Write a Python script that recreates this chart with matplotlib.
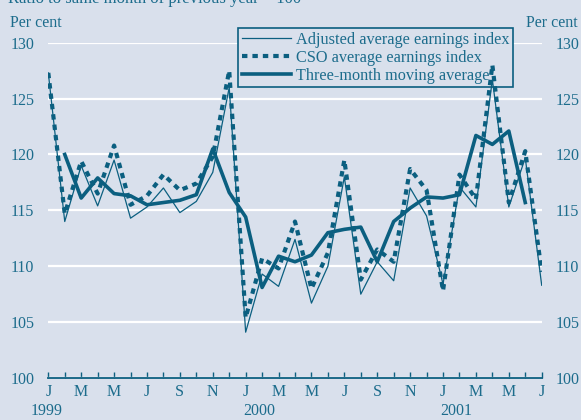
import numpy as np
import matplotlib
matplotlib.use("Agg")
import matplotlib.pyplot as plt
import matplotlib.transforms as mtransforms

# monthly values, Jan 1999 .. Jul 2001 (31 months)
adjusted = [127.3, 114.0, 119.0, 115.4, 119.5, 114.3, 115.3, 117.0, 114.8, 115.8,
            118.4, 126.0, 104.1, 109.3, 108.2, 112.4, 106.7, 110.0, 118.0, 107.5,
            110.4, 108.7, 117.0, 114.5, 108.4, 117.1, 115.3, 126.7, 115.3, 119.7,
            108.3]
cso = [127.3, 114.7, 119.4, 116.5, 120.8, 115.5, 116.3, 118.2, 116.8, 117.4,
       119.8, 127.5, 105.4, 110.7, 109.8, 114.0, 108.0, 111.2, 119.5, 108.8,
       111.5, 110.4, 118.7, 116.8, 107.8, 118.2, 116.0, 128.0, 115.7, 120.3,
       109.5]
# centred three-month average, Feb 1999 .. Jun 2001
moving_avg = [120.0, 116.1, 117.9, 116.5, 116.3, 115.5, 115.7, 115.9, 116.4,
              120.5, 116.6, 114.4, 108.1, 110.9, 110.4, 111.0, 113.0, 113.3,
              113.5, 110.4, 114.0, 115.2, 116.2, 116.1, 116.4, 121.7, 120.9,
              122.1, 115.7]
month_labels = ['J', 'M', 'M', 'J', 'S', 'N', 'J', 'M', 'M', 'J', 'S', 'N',
                'J', 'M', 'M', 'J']
years = ['1999', '2000', '2001']

bg = '#d9e0ec'
line_col = '#0b5f80'
text_col = '#1c6c8c'

plt.rcParams['font.family'] = ['Liberation Serif', 'DejaVu Serif']

fig = plt.figure(figsize=(5.81, 4.20), dpi=100, facecolor=bg)
ax = fig.add_axes([48.3 / 581, 1 - 378 / 420, 493.4 / 581, (378 - 42.7) / 420])
ax.set_facecolor(bg)

x_all = np.arange(len(adjusted))
x_ma = np.arange(1, 1 + len(moving_avg))

ax.plot(x_all, adjusted, color=line_col, lw=0.9, zorder=3,
        label='Adjusted average earnings index')
ax.plot(x_all, cso, color=line_col, lw=3.0, ls=(0, (1.3, 1.2)), zorder=3,
        label='CSO average earnings index')
ax.plot(x_ma, moving_avg, color=line_col, lw=2.6, zorder=3,
        label='Three-month moving average')

ax.set_xlim(0, 30)
ax.set_ylim(100, 130)
ax.set_yticks(np.arange(100, 131, 5))
ax.yaxis.grid(True, color='white', lw=1.6, zorder=0)
ax.set_axisbelow(True)

for s in ['top', 'left', 'right']:
    ax.spines[s].set_visible(False)
ax.spines['bottom'].set_color(line_col)
ax.spines['bottom'].set_linewidth(1.3)

ax.set_xticks(np.arange(0, 31, 2))
ax.set_xticklabels(month_labels)
ax.set_xticks(np.arange(0, 31, 1), minor=True)
ax.tick_params(axis='x', which='both', direction='in', length=4, width=1,
               color=line_col, labelcolor=text_col, labelsize=11.5, pad=4)
ax.tick_params(axis='y', length=0, labelcolor=text_col, labelsize=11.5, pad=10,
               labelright=True, labelleft=True)

trans = mtransforms.blended_transform_factory(ax.transData, fig.transFigure)
for i, yr in enumerate(years):
    xpos = i * 12
    ax.text(xpos - 1.1 if i == 0 else xpos - 0.15, 1 - 411 / 420, yr,
            transform=trans, ha='left', va='center', color=text_col,
            fontsize=11.5)

fig.text(10 / 581, 1 - 23 / 420, 'Per cent', color=text_col, fontsize=11.5,
         ha='left', va='center')
fig.text(578 / 581, 1 - 23 / 420, 'Per cent', color=text_col, fontsize=11.5,
         ha='right', va='center')
# header line, mostly cropped off at the top as in the source
fig.text(8 / 581, 1 - 3 / 420, 'Ratio to same month of previous year = 100',
         color=text_col, fontsize=12, ha='left', va='baseline')

leg = ax.legend(loc='upper left', bbox_to_anchor=(238.3 / 581, 1 - 28.3 / 420),
                bbox_transform=fig.transFigure, frameon=True, fancybox=False,
                facecolor=bg, edgecolor=line_col, framealpha=1, fontsize=11.7,
                handlelength=3.0, handletextpad=0.35, borderpad=0.22,
                labelspacing=0.12, borderaxespad=0)
leg.get_frame().set_linewidth(1.2)
for t in leg.get_texts():
    t.set_color(text_col)
leg.set_zorder(2.5)

fig.savefig('out.png', dpi=100, facecolor=bg)
